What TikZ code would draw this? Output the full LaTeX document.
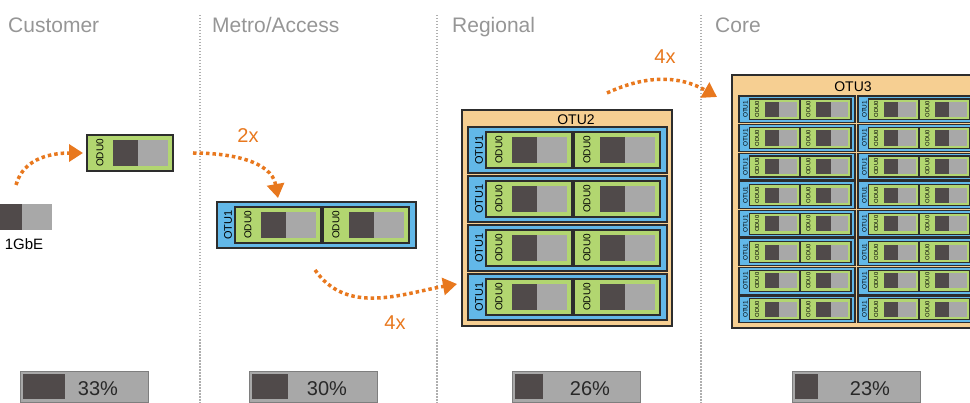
\documentclass[tikz,border=0pt]{standalone}
\usepackage{fontspec}
\setmainfont{Liberation Sans}
\usetikzlibrary{positioning}
\usetikzlibrary{arrows.meta}
\definecolor{odugreen}{RGB}{178,214,112}
\definecolor{otublue}{RGB}{98,184,232}
\definecolor{otubeige}{RGB}{246,207,146}
\definecolor{blkdark}{RGB}{80,74,74}
\definecolor{blklight}{RGB}{168,168,168}
\definecolor{boxline}{RGB}{45,45,45}
\definecolor{headgray}{RGB}{150,150,150}
\definecolor{divgray}{RGB}{175,175,175}
\definecolor{arroworange}{RGB}{232,120,30}
\definecolor{bartxt}{RGB}{40,40,40}
\tikzset{
    boxnode/.style = {rectangle, anchor=north west, inner sep=0pt, outer sep=0pt, transform shape},
    odunode/.style = {boxnode, draw=boxline, line width=1.2pt, fill=odugreen, minimum width=86pt, minimum height=36pt},
    otunode/.style = {boxnode, draw=boxline, line width=1.2pt, fill=otublue, minimum width=199pt, minimum height=46pt},
    bignode/.style = {boxnode, draw=boxline, line width=1.2pt, fill=otubeige},
    darknode/.style = {boxnode, fill=blkdark, minimum width=25pt, minimum height=26pt},
    lightnode/.style = {boxnode, fill=blklight, minimum width=30pt, minimum height=26pt},
    odutext/.style = {rotate=90, inner sep=0pt, transform shape, font=\fontsize{10}{10}\selectfont},
    otutext/.style = {rotate=90, inner sep=0pt, transform shape, font=\fontsize{11}{11}\selectfont},
    titletext/.style = {inner sep=0pt, font=\fontsize{14}{14}\selectfont},
    headtext/.style = {anchor=base west, inner sep=0pt, text=headgray, font=\fontsize{21}{21}\selectfont},
    multext/.style = {inner sep=0pt, text=arroworange, font=\fontsize{20}{20}\selectfont},
    barnode/.style = {boxnode, draw=blklight!75!black, line width=0.8pt, fill=blklight, minimum width=128pt, minimum height=31pt},
    bartext/.style = {inner sep=0pt, text=bartxt, font=\fontsize{20}{20}\selectfont},
    edgeo/.style = {-{Triangle[length=14pt,width=17pt]}, line width=3.5pt, arroworange, dash pattern=on 3.5pt off 3pt},
    edged/.style = {line width=1.5pt, divgray, dash pattern=on 1.5pt off 1.5pt}
}
% one ODU0 module: #1 name, #2 top left corner
\newcommand{\oduzero}[2]{%
  \begin{scope}[shift={#2}]
    \node[odunode] (#1) at (0,0) {};
    \node[odutext] (#1-l) at (13,-18) {ODU0};
    \node[darknode] (#1-d) at (26,-5) {};
    \node[lightnode] (#1-g) at (51,-5) {};
  \end{scope}}
% one OTU1 module holding two ODU0
\newcommand{\otuone}[2]{%
  \begin{scope}[shift={#2}]
    \node[otunode] (#1) at (0,0) {};
    \node[otutext] (#1-l) at (11,-23) {OTU1};
    \oduzero{#1-a}{(18,-5)}
    \oduzero{#1-b}{(106,-5)}
  \end{scope}}
% load bar: #1 name, #2 left x, #3 dark width, #4 text
\newcommand{\loadbar}[4]{%
  \node[barnode] (#1) at (#2,-371) {};
  \node[darknode, minimum width=#3pt, minimum height=25pt] (#1-d) at ({#2+3},-374) {};
  \node[bartext] (#1-t) at ({#2+78},-389) {#4};}

\begin{document}
\begin{tikzpicture}[x=1pt, y=1pt]
  \clip (0,0) rectangle (970,-403);
  % section dividers and headings
  \draw[edged] (200,-15) -- (200,-403);
  \draw[edged] (437,-15) -- (437,-403);
  \draw[edged] (701,-15) -- (701,-403);
  \node[headtext] (hcust) at (8,-33) {Customer};
  \node[headtext] (hmetro) at (212,-33) {Metro/Access};
  \node[headtext] (hreg) at (452,-33) {Regional};
  \node[headtext] (hcore) at (715,-33) {Core};

  % customer
  \node[darknode] (gbe-d) at (-3,-204) {};
  \node[lightnode] (gbe-g) at (22,-204) {};
  \node[inner sep=0pt, font=\fontsize{15}{15}\selectfont] (gbe) at (24,-244) {1GbE};
  \oduzero{cust}{(87,-135)}

  % metro
  \otuone{metro}{(217,-202)}

  % regional
  \node[bignode, minimum width=210pt, minimum height=216pt] (otu2) at (462,-110) {};
  \node[titletext] (otu2-t) at (576,-120) {OTU2};
  \otuone{reg0}{(468,-127)}
  \otuone{reg1}{(468,-176)}
  \otuone{reg2}{(468,-225)}
  \otuone{reg3}{(468,-274)}

  % core
  \node[bignode, minimum width=250pt, minimum height=253pt] (otu3) at (732,-75) {};
  \node[titletext] (otu3-t) at (853,-87) {OTU3};
  \begin{scope}[shift={(739,-96)}, scale=0.583]
    \foreach \r in {0,...,7} {
      \foreach \c in {0,1} {
        \otuone{core\r\c}{({\c*204},{-\r*49})}
      }
    }
  \end{scope}

  % multiplexing arrows
  \coordinate (s1) at (16,-185);
  \coordinate (s2) at (193,-153);
  \coordinate (e2) at (278,-198);
  \coordinate (s3) at (315,-270);
  \coordinate (e3) at (457,-284);
  \coordinate (s4) at (607,-93);
  \coordinate (e4) at (717,-97);
  \draw[edgeo] (s1) to[out=75,in=180] ([xshift=-4pt]cust.west);
  \draw[edgeo] (s2) to[out=0,in=100] (e2);
  \draw[edgeo] (s3) to[out=-55,in=190] (e3);
  \draw[edgeo] (s4) to[out=25,in=150] (e4);
  \node[multext] (m2) at (248,-136) {2x};
  \node[multext] (m4a) at (395,-323) {4x};
  \node[multext] (m4b) at (665,-57) {4x};

  % load bars
  \loadbar{bar1}{20}{42}{33\%}
  \loadbar{bar2}{249}{36}{30\%}
  \loadbar{bar3}{512}{28}{26\%}
  \loadbar{bar4}{792}{23}{23\%}
\end{tikzpicture}
\end{document}
